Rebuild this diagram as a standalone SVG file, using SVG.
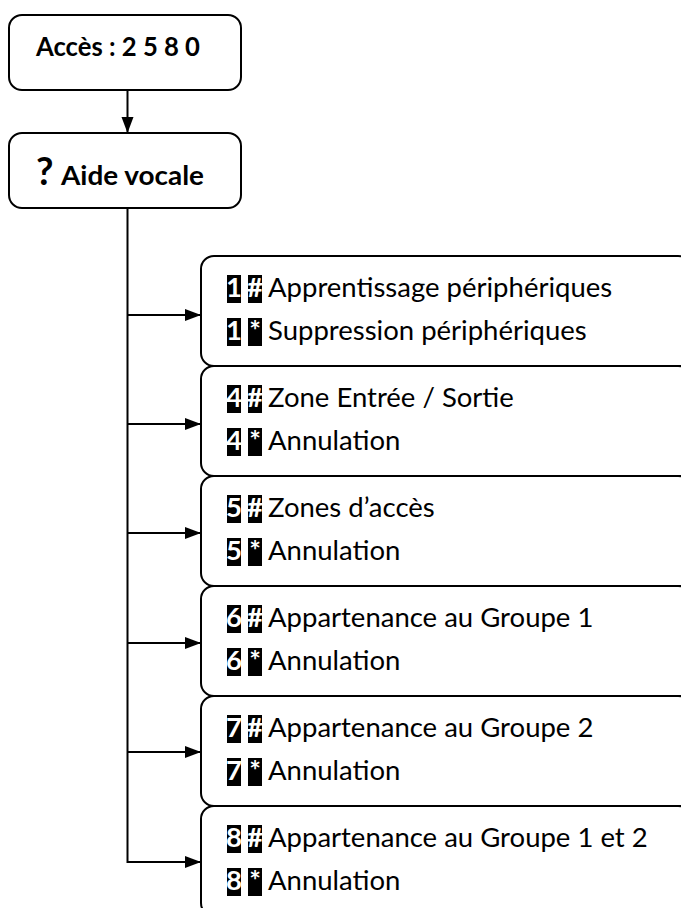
<svg xmlns="http://www.w3.org/2000/svg" width="681" height="908" viewBox="0 0 681 908">
<defs>
<marker id="ah" markerWidth="17" markerHeight="13" refX="16" refY="6" orient="auto" markerUnits="userSpaceOnUse">
<path d="M0,0 L16,6 L0,12 Z" fill="#000"/>
</marker>
<style>
.box{fill:#fff;stroke:#000;stroke-width:2}
.t{font-family:Lato,"Open Sans","Liberation Sans",sans-serif;font-size:27.5px;fill:#000}
.tb{font-family:Lato,"Open Sans","Liberation Sans",sans-serif;font-size:27px;font-weight:bold;fill:#000}
.q{font-family:Lato,"Open Sans","Liberation Sans",sans-serif;font-size:38px;font-weight:bold;fill:#000}
.k{fill:#000}
.kt{font-family:Lato,"Open Sans","Liberation Sans",sans-serif;font-size:27.5px;font-weight:bold;fill:#fff;text-anchor:middle}
.c{fill:none;stroke:#000;stroke-width:2}
</style>
</defs>
<g id="acces">
<rect class="box" x="9" y="15" width="232" height="75" rx="13"/>
<text class="tb" x="36" y="56" textLength="164" lengthAdjust="spacingAndGlyphs">Accès : 2 5 8 0</text>
</g>
<g id="aide">
<rect class="box" x="9" y="133" width="232" height="75" rx="13"/>
<text class="q" x="36" y="185">?</text>
<text class="tb" x="61" y="185" textLength="143" lengthAdjust="spacingAndGlyphs">Aide vocale</text>
</g>
<g id="n1">
<rect class="box" x="201" y="256" width="490" height="110" rx="13"/>
<rect class="k" x="227" y="275" width="14" height="28"/><rect class="k" x="248" y="275" width="14" height="28"/>
<text class="kt" x="234" y="297">1</text><text class="kt" x="255" y="297">#</text>
<text class="t" x="268" y="297">Apprentissage périphériques</text>
<rect class="k" x="227" y="318" width="14" height="28"/><rect class="k" x="248" y="318" width="14" height="28"/>
<text class="kt" x="234" y="340">1</text><text class="kt" x="255" y="340">*</text>
<text class="t" x="268" y="340">Suppression périphériques</text>
</g>
<g id="n4">
<rect class="box" x="201" y="366" width="490" height="110" rx="13"/>
<rect class="k" x="227" y="385" width="14" height="28"/><rect class="k" x="248" y="385" width="14" height="28"/>
<text class="kt" x="234" y="407">4</text><text class="kt" x="255" y="407">#</text>
<text class="t" x="268" y="407">Zone Entrée / Sortie</text>
<rect class="k" x="227" y="428" width="14" height="28"/><rect class="k" x="248" y="428" width="14" height="28"/>
<text class="kt" x="234" y="450">4</text><text class="kt" x="255" y="450">*</text>
<text class="t" x="268" y="450">Annulation</text>
</g>
<g id="n5">
<rect class="box" x="201" y="476" width="490" height="110" rx="13"/>
<rect class="k" x="227" y="495" width="14" height="28"/><rect class="k" x="248" y="495" width="14" height="28"/>
<text class="kt" x="234" y="517">5</text><text class="kt" x="255" y="517">#</text>
<text class="t" x="268" y="517">Zones d’accès</text>
<rect class="k" x="227" y="538" width="14" height="28"/><rect class="k" x="248" y="538" width="14" height="28"/>
<text class="kt" x="234" y="560">5</text><text class="kt" x="255" y="560">*</text>
<text class="t" x="268" y="560">Annulation</text>
</g>
<g id="n6">
<rect class="box" x="201" y="586" width="490" height="110" rx="13"/>
<rect class="k" x="227" y="605" width="14" height="28"/><rect class="k" x="248" y="605" width="14" height="28"/>
<text class="kt" x="234" y="627">6</text><text class="kt" x="255" y="627">#</text>
<text class="t" x="268" y="627">Appartenance au Groupe 1</text>
<rect class="k" x="227" y="648" width="14" height="28"/><rect class="k" x="248" y="648" width="14" height="28"/>
<text class="kt" x="234" y="670">6</text><text class="kt" x="255" y="670">*</text>
<text class="t" x="268" y="670">Annulation</text>
</g>
<g id="n7">
<rect class="box" x="201" y="696" width="490" height="110" rx="13"/>
<rect class="k" x="227" y="715" width="14" height="28"/><rect class="k" x="248" y="715" width="14" height="28"/>
<text class="kt" x="234" y="737">7</text><text class="kt" x="255" y="737">#</text>
<text class="t" x="268" y="737">Appartenance au Groupe 2</text>
<rect class="k" x="227" y="758" width="14" height="28"/><rect class="k" x="248" y="758" width="14" height="28"/>
<text class="kt" x="234" y="780">7</text><text class="kt" x="255" y="780">*</text>
<text class="t" x="268" y="780">Annulation</text>
</g>
<g id="n8">
<rect class="box" x="201" y="806" width="490" height="110" rx="13"/>
<rect class="k" x="227" y="825" width="14" height="28"/><rect class="k" x="248" y="825" width="14" height="28"/>
<text class="kt" x="234" y="847">8</text><text class="kt" x="255" y="847">#</text>
<text class="t" x="268" y="847">Appartenance au Groupe 1 et 2</text>
<rect class="k" x="227" y="868" width="14" height="28"/><rect class="k" x="248" y="868" width="14" height="28"/>
<text class="kt" x="234" y="890">8</text><text class="kt" x="255" y="890">*</text>
<text class="t" x="268" y="890">Annulation</text>
</g>
<g id="connectors">
<line class="c" x1="127.5" y1="90" x2="127.5" y2="133" marker-end="url(#ah)"/>
<polyline class="c" points="127.5,208 127.5,862 201,862" marker-end="url(#ah)"/>
<line class="c" x1="127.5" y1="315" x2="201" y2="315" marker-end="url(#ah)"/>
<line class="c" x1="127.5" y1="424" x2="201" y2="424" marker-end="url(#ah)"/>
<line class="c" x1="127.5" y1="533" x2="201" y2="533" marker-end="url(#ah)"/>
<line class="c" x1="127.5" y1="643" x2="201" y2="643" marker-end="url(#ah)"/>
<line class="c" x1="127.5" y1="752" x2="201" y2="752" marker-end="url(#ah)"/>
</g>
</svg>
